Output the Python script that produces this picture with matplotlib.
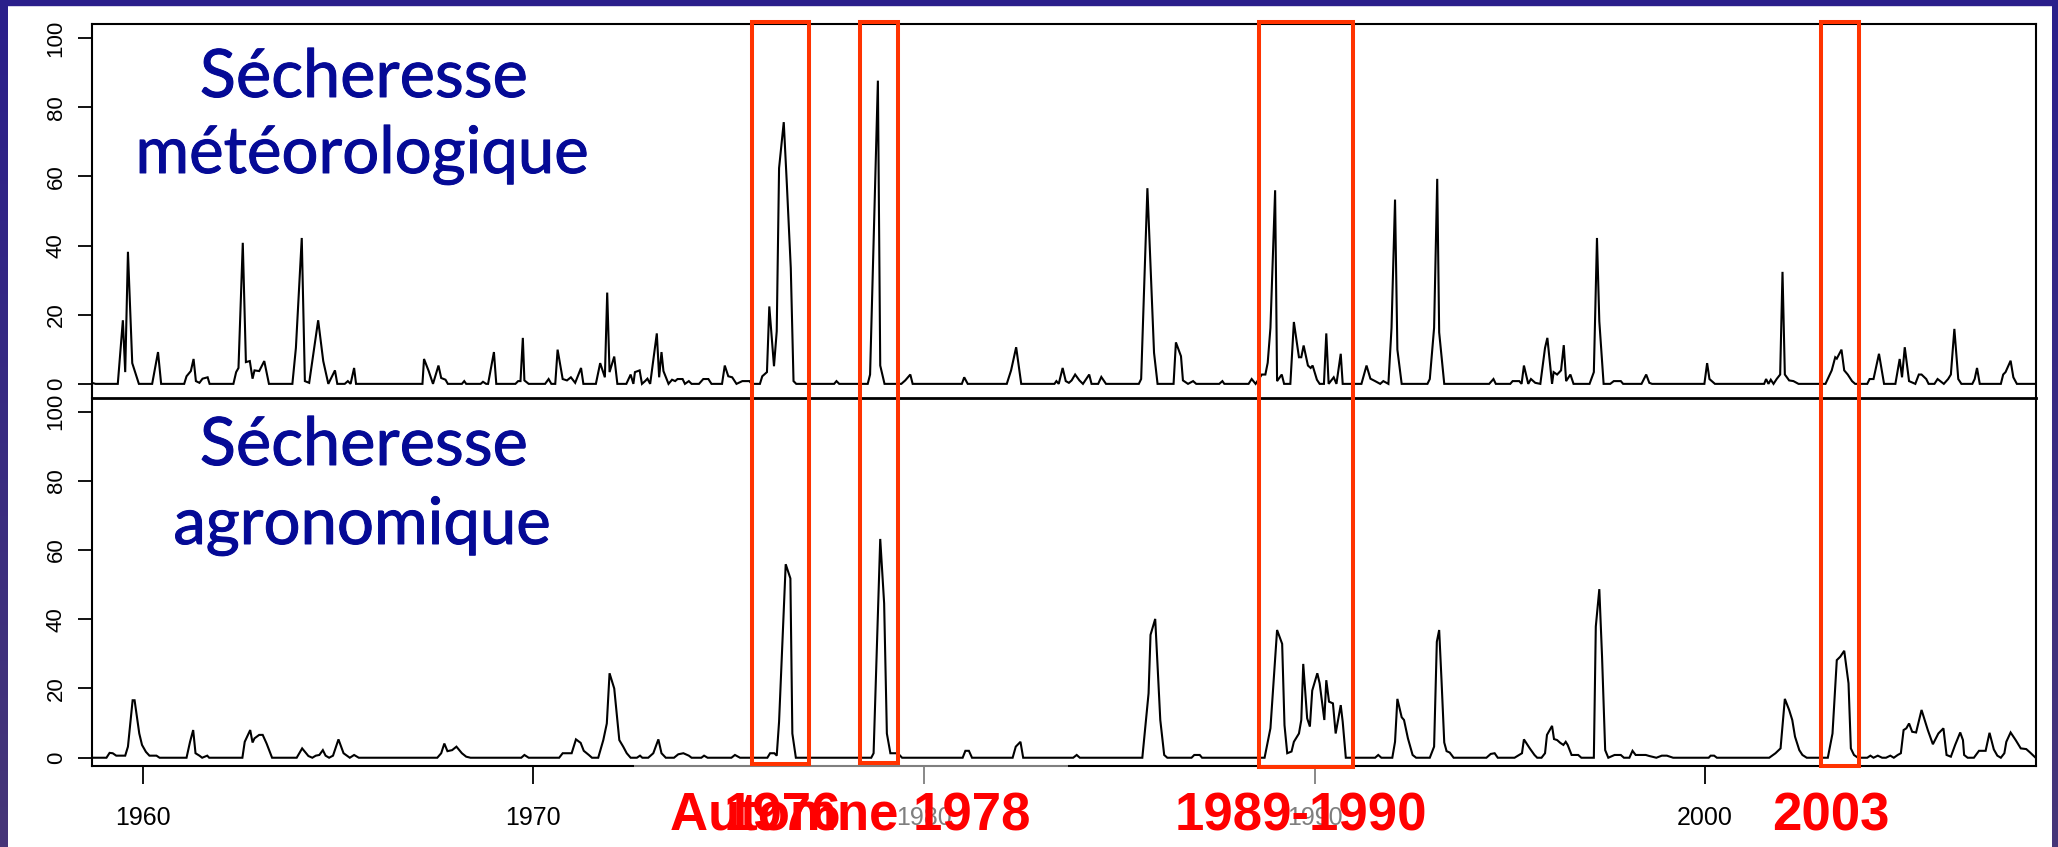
import numpy as np
import matplotlib
matplotlib.use("Agg")
import matplotlib.pyplot as plt
from matplotlib.patches import Rectangle
from matplotlib import transforms
from matplotlib.colors import LinearSegmentedColormap
import matplotlib.patheffects as pe

# ---------------- data ----------------
met_year = [
    1958.70, 1958.79, 1959.36, 1959.49, 1959.55, 1959.62, 1959.73, 1959.90, 1960.24, 1960.39,
    1960.47, 1961.06, 1961.12, 1961.23, 1961.30, 1961.36, 1961.45, 1961.53, 1961.66, 1961.71,
    1962.32, 1962.39, 1962.45, 1962.56, 1962.64, 1962.74, 1962.81, 1962.86, 1962.98, 1963.11,
    1963.23, 1963.83, 1963.92, 1964.07, 1964.15, 1964.26, 1964.49, 1964.62, 1964.75, 1964.92,
    1964.98, 1965.17, 1965.25, 1965.32, 1965.41, 1965.46, 1967.16, 1967.20, 1967.32, 1967.43,
    1967.57, 1967.64, 1967.75, 1967.81, 1968.17, 1968.23, 1968.28, 1968.65, 1968.71, 1968.79,
    1968.84, 1968.99, 1969.05, 1969.54, 1969.61, 1969.67, 1969.73, 1969.77, 1969.88, 1970.30,
    1970.39, 1970.46, 1970.56, 1970.62, 1970.75, 1970.86, 1970.96, 1971.07, 1971.22, 1971.28,
    1971.60, 1971.71, 1971.83, 1971.89, 1971.95, 1972.07, 1972.15, 1972.38, 1972.49, 1972.56,
    1972.60, 1972.72, 1972.78, 1972.86, 1972.92, 1972.99, 1973.16, 1973.22, 1973.28, 1973.33,
    1973.46, 1973.55, 1973.63, 1973.69, 1973.82, 1973.88, 1973.98, 1974.05, 1974.24, 1974.35,
    1974.48, 1974.56, 1974.83, 1974.90, 1974.99, 1975.09, 1975.20, 1975.35, 1975.53, 1975.59,
    1975.80, 1975.86, 1975.98, 1976.04, 1976.16, 1976.23, 1976.29, 1976.41, 1976.49, 1976.59,
    1976.66, 1976.73, 1977.70, 1977.76, 1977.83, 1978.56, 1978.62, 1978.82, 1978.88, 1978.99,
    1979.42, 1979.52, 1979.65, 1979.71, 1980.97, 1981.03, 1981.12, 1982.12, 1982.23, 1982.36,
    1982.49, 1983.34, 1983.39, 1983.45, 1983.55, 1983.63, 1983.71, 1983.78, 1983.87, 1983.98,
    1984.07, 1984.23, 1984.29, 1984.46, 1984.54, 1984.66, 1985.50, 1985.56, 1985.72, 1985.89,
    1985.98, 1986.39, 1986.45, 1986.58, 1986.63, 1986.76, 1986.89, 1986.97, 1987.56, 1987.64,
    1987.69, 1988.31, 1988.39, 1988.49, 1988.65, 1988.74, 1988.80, 1988.87, 1988.99, 1989.04,
    1989.16, 1989.22, 1989.38, 1989.47, 1989.60, 1989.66, 1989.72, 1989.83, 1989.90, 1989.95,
    1990.06, 1990.13, 1990.24, 1990.30, 1990.36, 1990.49, 1990.56, 1990.67, 1990.72, 1991.20,
    1991.33, 1991.43, 1991.55, 1991.68, 1991.76, 1991.89, 1991.97, 1992.06, 1992.12, 1992.23,
    1992.89, 1992.95, 1993.06, 1993.14, 1993.19, 1993.32, 1994.47, 1994.58, 1994.64, 1995.01,
    1995.07, 1995.24, 1995.30, 1995.36, 1995.47, 1995.54, 1995.65, 1995.78, 1995.90, 1995.96,
    1996.08, 1996.12, 1996.21, 1996.31, 1996.38, 1996.44, 1996.55, 1996.63, 1997.04, 1997.15,
    1997.23, 1997.29, 1997.40, 1997.57, 1997.66, 1997.84, 1997.90, 1998.37, 1998.49, 1998.57,
    1998.64, 1999.98, 2000.05, 2000.11, 2000.25, 2001.51, 2001.56, 2001.62, 2001.68, 2001.75,
    2001.83, 2001.92, 2001.98, 2002.04, 2002.15, 2002.26, 2002.39, 2003.08, 2003.24, 2003.33,
    2003.37, 2003.49, 2003.56, 2003.65, 2003.76, 2003.84, 2004.15, 2004.21, 2004.31, 2004.45,
    2004.58, 2004.87, 2004.98, 2005.04, 2005.11, 2005.22, 2005.38, 2005.47, 2005.54, 2005.66,
    2005.72, 2005.87, 2005.95, 2006.11, 2006.22, 2006.29, 2006.38, 2006.48, 2006.56, 2006.84,
    2006.90, 2006.96, 2007.03, 2007.57, 2007.63, 2007.69, 2007.82, 2007.89, 2007.98, 2008.48,
]
met_val = [
    0.3, 0, 0, 18.4, 3.4, 38.2, 6.0, 0, 0, 9.2,
    0, 0, 2.2, 3.7, 7.2, 0.8, 0.3, 1.5, 1.9, 0,
    0, 3.4, 4.6, 40.8, 6.3, 6.6, 1.5, 3.9, 3.7, 6.6,
    0, 0, 10.4, 42.2, 0.8, 0.3, 18.4, 6.6, 0, 3.9,
    0, 0, 0.8, 0, 4.6, 0, 0, 7.2, 3.7, 0,
    5.3, 1.7, 1.2, 0, 0, 0.8, 0, 0, 0.6, 0,
    0, 9.2, 0, 0, 0.8, 0.8, 13.3, 1.0, 0, 0,
    1.4, 0, 0, 9.9, 1.4, 1.0, 1.9, 0.3, 4.6, 0,
    0, 6.0, 1.9, 26.4, 3.4, 7.9, 0, 0, 2.7, 0,
    3.4, 3.9, 0, 0.8, 1.5, 0, 14.6, 1.9, 9.2, 3.7,
    0, 1.2, 0.8, 1.4, 1.4, 0, 0.8, 0, 0, 1.4,
    1.4, 0, 0, 5.3, 2.2, 1.9, 0, 0.8, 0.8, 0,
    0, 2.2, 3.4, 22.4, 5.1, 15.2, 62.4, 75.7, 57.6, 33.5,
    0.8, 0, 0, 0.8, 0, 0, 2.7, 87.7, 5.3, 0,
    0, 1.0, 2.7, 0, 0, 1.9, 0, 0, 3.9, 10.6,
    0, 0, 0.8, 0, 4.6, 0.8, 0.3, 1.0, 2.7, 1.0,
    0, 2.7, 0, 0, 2.0, 0, 0, 1.4, 56.6, 9.0,
    0, 0, 12.0, 8.0, 1.0, 0, 0.8, 0, 0, 0.8,
    0, 0, 1.4, 0, 2.7, 2.7, 6.1, 16.2, 56.0, 0.8,
    2.7, 0, 0, 17.9, 7.7, 7.7, 11.1, 5.3, 4.6, 5.3,
    1.2, 0, 0, 14.6, 0, 1.9, 0, 8.7, 0, 0,
    5.3, 1.5, 0.8, 0, 0.8, 0, 16.2, 53.3, 9.9, 0,
    0, 1.4, 16.2, 59.3, 14.9, 0, 0, 1.4, 0, 0,
    0.8, 0.8, 0, 5.3, 0, 1.4, 0.3, 0, 10.4, 13.3,
    0, 3.4, 2.7, 3.9, 11.2, 0.8, 2.7, 0, 0, 3.4,
    42.2, 18.1, 0, 0, 0.8, 0.8, 0, 0, 2.7, 0.3,
    0, 0, 6.0, 1.4, 0, 0, 1.4, 0, 1.2, 0,
    1.4, 2.7, 32.4, 2.7, 1.0, 0.8, 0, 0, 3.9, 7.7,
    7.3, 9.9, 3.9, 2.7, 0.8, 0, 0, 1.4, 1.4, 8.7,
    0, 0, 7.2, 1.9, 10.6, 0.8, 0, 2.7, 2.7, 1.4,
    0, 0, 1.4, 0, 1.4, 2.7, 15.9, 1.4, 0, 0,
    1.4, 4.6, 0, 0, 2.7, 3.4, 6.7, 1.9, 0, 0,
]

agro_year = [
    1958.70, 1959.07, 1959.15, 1959.23, 1959.32, 1959.55, 1959.62, 1959.74, 1959.79, 1959.91,
    1959.98, 1960.08, 1960.17, 1960.35, 1960.43, 1961.12, 1961.21, 1961.29, 1961.35, 1961.45,
    1961.52, 1961.65, 1961.70, 1962.55, 1962.61, 1962.75, 1962.81, 1962.86, 1962.98, 1963.07,
    1963.17, 1963.31, 1963.94, 1964.08, 1964.24, 1964.34, 1964.43, 1964.52, 1964.61, 1964.68,
    1964.77, 1964.87, 1965.01, 1965.14, 1965.30, 1965.41, 1965.53, 1967.54, 1967.64, 1967.72,
    1967.80, 1967.92, 1968.03, 1968.17, 1968.28, 1968.39, 1969.69, 1969.77, 1969.88, 1970.66,
    1970.75, 1970.98, 1971.09, 1971.21, 1971.29, 1971.42, 1971.50, 1971.66, 1971.79, 1971.88,
    1971.95, 1972.07, 1972.20, 1972.30, 1972.39, 1972.49, 1972.65, 1972.73, 1972.79, 1972.94,
    1973.02, 1973.07, 1973.20, 1973.28, 1973.39, 1973.60, 1973.71, 1973.84, 1973.98, 1974.05,
    1974.30, 1974.37, 1974.46, 1975.07, 1975.16, 1975.29, 1975.99, 1976.06, 1976.17, 1976.23,
    1976.29, 1976.46, 1976.58, 1976.63, 1976.72, 1978.65, 1978.71, 1978.88, 1978.98, 1979.05,
    1979.14, 1979.27, 1979.33, 1979.44, 1980.99, 1981.06, 1981.15, 1981.23, 1982.27, 1982.35,
    1982.47, 1982.54, 1983.82, 1983.91, 1983.99, 1985.59, 1985.75, 1985.80, 1985.92, 1986.05,
    1986.15, 1986.23, 1986.85, 1986.92, 1987.06, 1987.12, 1988.72, 1988.87, 1989.04, 1989.17,
    1989.23, 1989.30, 1989.41, 1989.47, 1989.60, 1989.66, 1989.71, 1989.81, 1989.88, 1989.94,
    1990.07, 1990.13, 1990.25, 1990.30, 1990.37, 1990.47, 1990.54, 1990.67, 1990.72, 1990.80,
    1991.55, 1991.63, 1991.71, 1991.99, 1992.06, 1992.12, 1992.23, 1992.29, 1992.39, 1992.51,
    1992.60, 1992.95, 1993.06, 1993.13, 1993.19, 1993.25, 1993.32, 1993.38, 1993.46, 1993.56,
    1994.40, 1994.51, 1994.61, 1994.69, 1995.12, 1995.24, 1995.31, 1995.36, 1995.51, 1995.63,
    1995.70, 1995.81, 1995.90, 1995.95, 1996.08, 1996.13, 1996.21, 1996.29, 1996.37, 1996.43,
    1996.48, 1996.58, 1996.75, 1996.83, 1997.15, 1997.20, 1997.29, 1997.36, 1997.44, 1997.52,
    1997.68, 1997.84, 1997.92, 1998.06, 1998.14, 1998.22, 1998.48, 1998.57, 1998.75, 1998.89,
    1999.02, 1999.18, 2000.09, 2000.14, 2000.23, 2000.30, 2001.64, 2001.80, 2001.93, 2002.04,
    2002.15, 2002.23, 2002.30, 2002.41, 2002.49, 2002.60, 2003.14, 2003.26, 2003.37, 2003.46,
    2003.56, 2003.67, 2003.73, 2003.81, 2003.91, 2004.15, 2004.23, 2004.31, 2004.42, 2004.53,
    2004.63, 2004.74, 2004.83, 2004.93, 2005.01, 2005.08, 2005.15, 2005.22, 2005.30, 2005.40,
    2005.54, 2005.70, 2005.83, 2005.97, 2006.10, 2006.18, 2006.29, 2006.40, 2006.53, 2006.60,
    2006.63, 2006.72, 2006.88, 2007.01, 2007.18, 2007.28, 2007.39, 2007.48, 2007.57, 2007.66,
    2007.71, 2007.82, 2007.95, 2008.08, 2008.22, 2008.32, 2008.46,
]
agro_val = [
    0, 0, 1.4, 1.3, 0.6, 0.6, 3.2, 16.6, 16.6, 7.0,
    3.7, 1.7, 0.6, 0.6, 0, 0, 4.6, 8.0, 1.3, 0.6,
    0, 0.6, 0, 0, 4.6, 8.0, 4.4, 5.6, 6.6, 6.6,
    4.1, 0, 0, 2.7, 0.5, 0, 0.6, 0.8, 2.2, 0.6,
    0, 0.6, 5.3, 1.3, 0, 0.8, 0, 0, 1.3, 4.1,
    1.9, 2.2, 3.2, 1.3, 0.3, 0, 0, 0.8, 0, 0,
    1.3, 1.3, 5.3, 4.3, 2.0, 0.8, 0, 0, 5.1, 9.9,
    24.4, 20.0, 5.1, 3.2, 1.3, 0, 0, 0.6, 0, 0,
    0.8, 1.3, 5.3, 1.3, 0, 0, 1.0, 1.3, 0.6, 0,
    0, 0.6, 0, 0, 0.8, 0, 0, 1.3, 1.3, 0.6,
    10.4, 55.9, 51.8, 7.0, 0, 0, 1.3, 63.2, 44.6, 7.0,
    1.3, 1.3, 1.3, 0, 0, 2.0, 2.0, 0, 0, 3.2,
    4.6, 0, 0, 0.8, 0, 0, 18.6, 35.5, 40.1, 10.9,
    0.8, 0, 0, 0.8, 0.8, 0, 0, 8.5, 36.9, 32.9,
    9.4, 1.3, 1.8, 4.6, 7.0, 10.9, 27.1, 11.4, 9.0, 19.4,
    24.4, 21.5, 10.9, 22.4, 16.2, 15.7, 7.0, 15.2, 10.4, 0,
    0, 0.8, 0, 0, 4.6, 17.0, 11.7, 10.9, 5.6, 0.8,
    0, 0, 3.2, 33.5, 36.9, 22.4, 4.4, 1.9, 1.5, 0,
    0, 1.1, 1.3, 0, 0, 0.8, 1.3, 5.3, 2.7, 0.8,
    0, 0, 1.3, 6.6, 9.2, 5.4, 5.1, 4.3, 3.7, 4.6,
    3.7, 0.8, 0.8, 0, 0, 37.9, 48.7, 29.2, 2.2, 0,
    0.8, 0.8, 0, 0, 2.0, 0.8, 0.8, 0.5, 0, 0.6,
    0.6, 0, 0, 0.6, 0.6, 0, 0, 1.3, 2.7, 17.0,
    13.8, 10.9, 6.1, 2.2, 0.8, 0, 0, 7.0, 28.2, 29.2,
    30.9, 21.5, 2.7, 0.8, 0, 0, 0.6, 0, 0.6, 0,
    0, 0.6, 0, 0.8, 1.3, 8.0, 8.5, 9.9, 7.5, 7.3,
    13.8, 8.0, 3.9, 7.0, 8.5, 0.8, 0.3, 3.7, 7.3, 5.1,
    0.8, 0, 0, 2.0, 2.0, 7.2, 2.4, 0.6, 0, 1.3,
    4.6, 7.3, 5.1, 2.7, 2.5, 1.5, 0,
]

panel_titles = [["Sécheresse", "météorologique"], ["Sécheresse", "agronomique"]]
y_ticks = [0, 20, 40, 60, 80, 100]
x_ticks = [1960, 1970, 1980, 1990, 2000]
x_range = (1958.71, 2008.47)
# drought episodes highlighted (start, end in decimal years)
episode_start = [1975.60, 1978.35, 1988.57, 2002.96]
episode_end = [1977.06, 1979.34, 1990.98, 2003.93]
episode_labels = ["1976", "Automne 1978", "1989-1990", "2003"]

# ---------------- figure ----------------
W, H, DPI = 2058, 847, 100
fig = plt.figure(figsize=(W / DPI, H / DPI), dpi=DPI)
fig.patch.set_facecolor("white")

def fx(px):
    return px / W

def fy(py):
    return 1 - py / H

# slide border
border_cmap = LinearSegmentedColormap.from_list("brd", ["#2a1f8b", "#463678"])
grad = np.linspace(0, 1, 256)[:, None]
for x0, w in [(0, 7.6), (2052, 6)]:
    axb = fig.add_axes([fx(x0), 0, w / W, 1])
    axb.imshow(grad, aspect="auto", cmap=border_cmap)
    axb.axis("off")
fig.patches.append(Rectangle((0, fy(5)), 1, 5 / H, transform=fig.transFigure,
                             color="#2a1f8b", zorder=1))

L, R = 92.4, 2036.0
T1, M, B2 = 24.3, 397.7, 765.7
ax1 = fig.add_axes([fx(L), fy(M), (R - L) / W, (M - T1) / H])
ax2 = fig.add_axes([fx(L), fy(B2), (R - L) / W, (B2 - M) / H])

tick_font = "Liberation Sans"
for ax, xs, ys in [(ax1, met_year, met_val), (ax2, agro_year, agro_val)]:
    ax.patch.set_visible(False)
    ax.plot(xs, ys, color="black", lw=1.5, solid_joinstyle="miter")
    ax.set_xlim(*x_range)
    ax.set_yticks(y_ticks)
    ax.set_yticklabels([str(v) for v in y_ticks], rotation=90, va="center",
                       fontsize=16, family=tick_font)
    ax.tick_params(axis="y", length=10, width=1.3, pad=8.5)
    for s in ax.spines.values():
        s.set_linewidth(1.5)

ax1.set_ylim(-4, 104)
ax2.set_ylim(-2.3, 104)
ax1.spines["bottom"].set_linewidth(2.0)
ax2.spines["top"].set_visible(False)
ax1.tick_params(axis="x", bottom=False, labelbottom=False)
ax2.set_xticks(x_ticks)
ax2.set_xticklabels([str(v) for v in x_ticks], fontsize=18, family=tick_font)
ax2.tick_params(axis="x", length=12.7, width=1.3, pad=16)

# panel titles
title_color = "#050a96"
thick = [pe.withStroke(linewidth=0.7, foreground=title_color)]
for lines, (b1, b2) in zip(panel_titles, [(97, 173), (465, 544)]):
    fig.text(fx(364), fy(b1), lines[0], ha="center", va="baseline", fontsize=48,
             family="Lato", color=title_color, path_effects=thick)
    fig.text(fx(362), fy(b2), lines[1], ha="center", va="baseline", fontsize=47,
             family="Lato", color=title_color, path_effects=thick)

# translucent text boxes of the slide
for x0, x1, y0 in [(634, 1068, 761), (1170, 1435, 768)]:
    fig.patches.append(Rectangle((fx(x0), 0), (x1 - x0) / W, fy(y0), transform=fig.transFigure,
                                 facecolor="white", alpha=0.5, edgecolor="none", zorder=2))

# red episode frames
btrans = transforms.blended_transform_factory(ax2.transData, fig.transFigure)
for s, e, bot in zip(episode_start, episode_end, [764.3, 763.3, 766.7, 765.7]):
    fig.patches.append(Rectangle((s, fy(bot)), e - s, (bot - 22.3) / H, transform=btrans,
                                 fill=False, edgecolor="#ff3300", lw=2.9, zorder=3,
                                 joinstyle="miter"))

# red episode labels
for lab, cx in zip(episode_labels, [782, 850, 1301, 1831]):
    fig.text(fx(cx), fy(830), lab, ha="center", va="baseline", fontsize=38,
             fontweight="bold", family="Liberation Sans", color="#ff0000", zorder=4)

fig.savefig("out.png", dpi=DPI)
